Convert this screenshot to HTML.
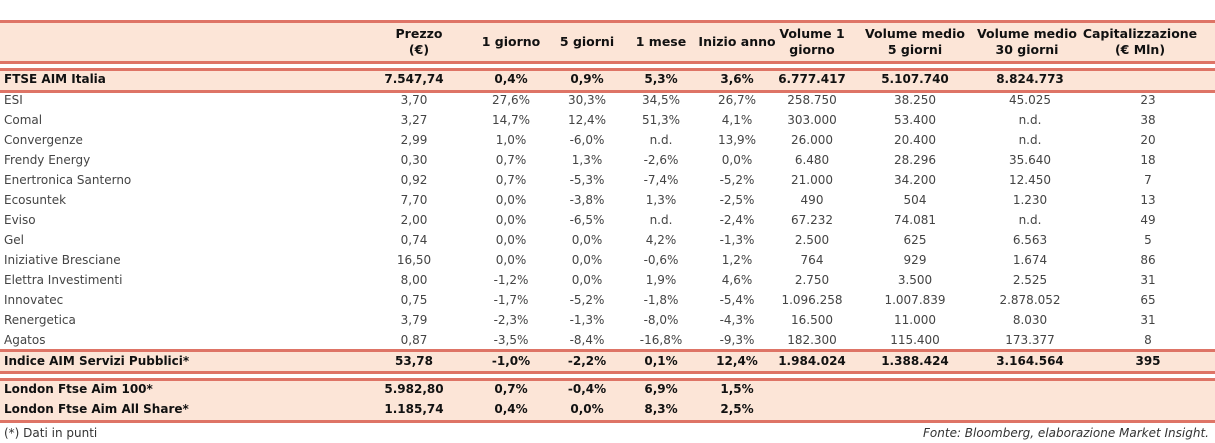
<!DOCTYPE html>
<html><head><meta charset="utf-8">
<style>
body{margin:0;width:1215px;height:443px;background:#fff;position:relative;overflow:hidden;font-family:"DejaVu Sans","Liberation Sans",sans-serif;font-size:12px;color:#444;}
.band{position:absolute;left:0;width:1215px;background:#fce5d7;}
.ln{position:absolute;left:0;width:1215px;height:3px;background:#de7466;}
.c{position:absolute;white-space:nowrap;transform:translateX(-50%);}
.l{position:absolute;left:4px;white-space:nowrap;}
.b{font-weight:bold;color:#111;}
.h{position:absolute;transform:translateX(-50%);text-align:center;font-weight:bold;color:#111;line-height:16px;white-space:nowrap;font-size:12.5px;}
</style></head><body>
<div class="band" style="top:21px;height:42px"></div>
<div class="band" style="top:69px;height:22px"></div>
<div class="band" style="top:350px;height:22px"></div>
<div class="band" style="top:379px;height:42px"></div>
<div class="ln" style="top:20px"></div>
<div class="ln" style="top:61px"></div>
<div class="ln" style="top:68px"></div>
<div class="ln" style="top:90px"></div>
<div class="ln" style="top:349px"></div>
<div class="ln" style="top:371px"></div>
<div class="ln" style="top:378px"></div>
<div class="ln" style="top:420px"></div>
<div class="h" style="left:419px;top:26px">Prezzo<br>(€)</div>
<div class="h" style="left:511px;top:34px">1 giorno</div>
<div class="h" style="left:587px;top:34px">5 giorni</div>
<div class="h" style="left:661px;top:34px">1 mese</div>
<div class="h" style="left:737px;top:34px">Inizio anno</div>
<div class="h" style="left:812px;top:26px">Volume 1<br>giorno</div>
<div class="h" style="left:915px;top:26px">Volume medio<br>5 giorni</div>
<div class="h" style="left:1027px;top:26px">Volume medio<br>30 giorni</div>
<div class="h" style="left:1140px;top:26px">Capitalizzazione<br>(€ Mln)</div>
<div class="l" style="top:426px;color:#333">(*) Dati in punti</div>
<div style="position:absolute;right:6px;top:426px;font-style:italic;color:#333">Fonte: Bloomberg, elaborazione Market Insight.</div>
<script>
const names=["FTSE AIM Italia","ESI","Comal","Convergenze","Frendy Energy","Enertronica Santerno","Ecosuntek","Eviso","Gel","Iniziative Bresciane","Elettra Investimenti","Innovatec","Renergetica","Agatos","Indice AIM Servizi Pubblici*","London Ftse Aim 100*","London Ftse Aim All Share*"];
const prezzo=["7.547,74","3,70","3,27","2,99","0,30","0,92","7,70","2,00","0,74","16,50","8,00","0,75","3,79","0,87","53,78","5.982,80","1.185,74"];
const g1=["0,4%","27,6%","14,7%","1,0%","0,7%","0,7%","0,0%","0,0%","0,0%","0,0%","-1,2%","-1,7%","-2,3%","-3,5%","-1,0%","0,7%","0,4%"];
const g5=["0,9%","30,3%","12,4%","-6,0%","1,3%","-5,3%","-3,8%","-6,5%","0,0%","0,0%","0,0%","-5,2%","-1,3%","-8,4%","-2,2%","-0,4%","0,0%"];
const m1=["5,3%","34,5%","51,3%","n.d.","-2,6%","-7,4%","1,3%","n.d.","4,2%","-0,6%","1,9%","-1,8%","-8,0%","-16,8%","0,1%","6,9%","8,3%"];
const ytd=["3,6%","26,7%","4,1%","13,9%","0,0%","-5,2%","-2,5%","-2,4%","-1,3%","1,2%","4,6%","-5,4%","-4,3%","-9,3%","12,4%","1,5%","2,5%"];
const vol1=["6.777.417","258.750","303.000","26.000","6.480","21.000","490","67.232","2.500","764","2.750","1.096.258","16.500","182.300","1.984.024","",""];
const vol5=["5.107.740","38.250","53.400","20.400","28.296","34.200","504","74.081","625","929","3.500","1.007.839","11.000","115.400","1.388.424","",""];
const vol30=["8.824.773","45.025","n.d.","n.d.","35.640","12.450","1.230","n.d.","6.563","1.674","2.525","2.878.052","8.030","173.377","3.164.564","",""];
const cap=["","23","38","20","18","7","13","49","5","86","31","65","31","8","395","",""];
const rowTops=[72,93,113,133,153,173,193,213,233,253,273,293,313,333,354,382,402];
const cols=[[prezzo,414],[g1,511],[g5,587],[m1,661],[ytd,737],[vol1,812],[vol5,915],[vol30,1030],[cap,1148]];
const bold=i=>i===0||i>=14;
names.forEach((n,i)=>{
  const d=document.createElement('div');
  d.className='l'+(bold(i)?' b':'');
  d.style.top=rowTops[i]+'px';
  d.textContent=n;
  
  
  document.body.appendChild(d);
  cols.forEach(([arr,x])=>{
    if(!arr[i])return;
    const c=document.createElement('div');
    c.className='c'+(bold(i)?' b':'');
    c.style.left=x+'px';c.style.top=rowTops[i]+'px';
    c.textContent=arr[i];
    
    
    document.body.appendChild(c);
  });
});
</script>
</body></html>
